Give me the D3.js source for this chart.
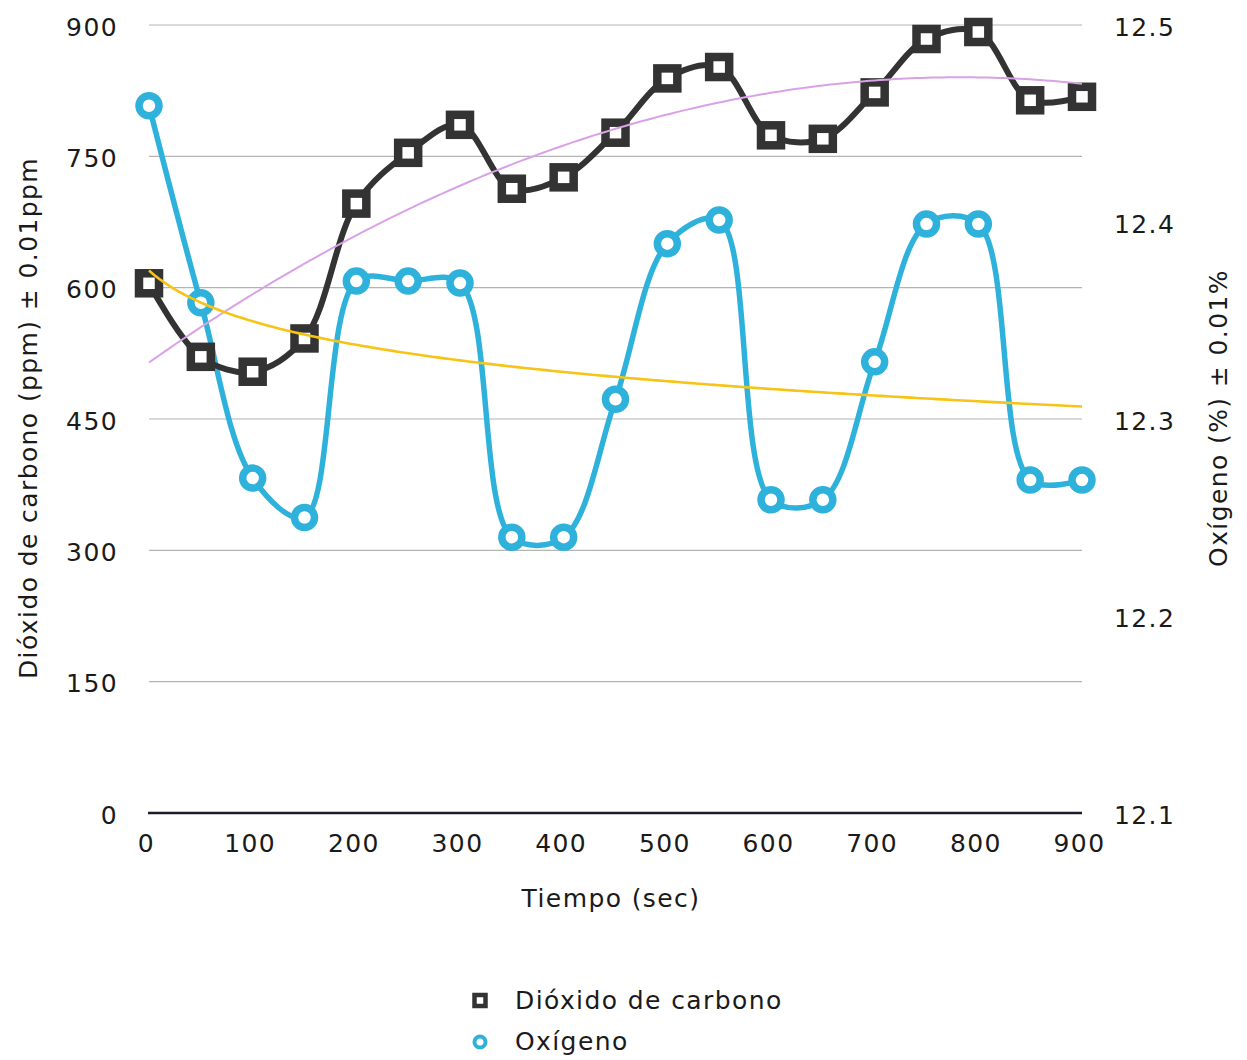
<!DOCTYPE html>
<html>
<head>
<meta charset="utf-8">
<script src="https://cdn.jsdelivr.net/npm/d3@7"></script>
<style>
  html, body { margin: 0; padding: 0; background: #fff; }
  svg text { font-family: "DejaVu Sans", "Liberation Sans", Arial, sans-serif; fill: #1a1a1a; letter-spacing: 1.4px; }
</style>
</head>
<body>
<svg id="chart" width="1247" height="1060"></svg>
<script>
// Time samples (seconds)
const tiempo = [0, 50, 100, 150, 200, 250, 300, 350, 400, 450, 500, 550, 600, 650, 700, 750, 800, 850, 900];
// Carbon dioxide (ppm), left axis
const co2 = [605, 521, 504, 542, 696, 754, 786, 713, 726, 777, 839, 852, 774, 770, 823, 884, 892, 814, 818];
// Oxygen (%), right axis
const o2 = [12.459, 12.359, 12.270, 12.250, 12.370, 12.370, 12.369, 12.240, 12.240, 12.310,
            12.389, 12.401, 12.259, 12.259, 12.329, 12.399, 12.399, 12.269, 12.269];

const xTicks = [0, 100, 200, 300, 400, 500, 600, 700, 800, 900];
const leftTicks = [0, 150, 300, 450, 600, 750, 900];
const rightTicks = [12.1, 12.2, 12.3, 12.4, 12.5];

const colCO2 = "#333333";
const colO2 = "#2eb2dc";
const colTrendCO2 = "#d9a2e6";
const colTrendO2 = "#f7c316";
const fontFamily = '"DejaVu Sans", "Liberation Sans", Arial, sans-serif';
const fontSize = 25;

const svg = d3.select("#chart");

const x = d3.scaleLinear().domain([0, 900]).range([149, 1082]);
const yL = d3.scaleLinear().domain([0, 900]).range([813, 25]);
const yR = d3.scaleLinear().domain([12.1, 12.5]).range([813, 25]);

// Horizontal gridlines
svg.append("g")
  .selectAll("line")
  .data(leftTicks.filter(d => d > 0))
  .join("line")
  .attr("x1", x(0)).attr("x2", x(900))
  .attr("y1", d => yL(d)).attr("y2", d => yL(d))
  .attr("stroke", "#b4b4b4").attr("stroke-width", 1.2);

// Baseline
svg.append("line")
  .attr("x1", x(0) - 1).attr("x2", x(900))
  .attr("y1", yL(0)).attr("y2", yL(0))
  .attr("stroke", "#1c1c2c").attr("stroke-width", 2.5);

// Axes (labels only)
function styleAxis(g) {
  g.select(".domain").remove();
  g.selectAll(".tick line").remove();
  g.selectAll("text").attr("font-size", fontSize).attr("fill", "#1a1a1a")
    .style("font-family", fontFamily);
}

svg.append("g")
  .attr("transform", `translate(-3, ${yL(0) + 21})`)
  .call(d3.axisBottom(x).tickValues(xTicks).tickSize(0).tickPadding(0).tickFormat(d3.format("d")))
  .call(styleAxis);

svg.append("g")
  .attr("transform", "translate(118, 2)")
  .call(d3.axisLeft(yL).tickValues(leftTicks).tickSize(0).tickPadding(0).tickFormat(d3.format("d")))
  .call(styleAxis);

svg.append("g")
  .attr("transform", "translate(1114, 2)")
  .call(d3.axisRight(yR).tickValues(rightTicks).tickSize(0).tickPadding(0).tickFormat(d3.format(".1f")))
  .call(styleAxis);

// Axis titles
svg.append("text")
  .attr("x", 611).attr("y", 907)
  .attr("text-anchor", "middle").attr("font-size", fontSize)
  .text("Tiempo (sec)");

svg.append("text")
  .attr("transform", "translate(37, 418) rotate(-90)")
  .attr("text-anchor", "middle").attr("font-size", fontSize)
  .text("Dióxido de carbono (ppm) ± 0.01ppm");

svg.append("text")
  .attr("transform", "translate(1227, 418) rotate(-90)")
  .attr("text-anchor", "middle").attr("font-size", fontSize)
  .text("Oxígeno (%) ± 0.01%");

// Data lines
const co2Pts = tiempo.map((t, i) => [t, co2[i]]);
const o2Pts = tiempo.map((t, i) => [t, o2[i]]);

const lineL = d3.line().x(d => x(d[0])).y(d => yL(d[1])).curve(d3.curveCatmullRom.alpha(0.5));
const lineR = d3.line().x(d => x(d[0])).y(d => yR(d[1])).curve(d3.curveCatmullRom.alpha(0.5));

svg.append("path").datum(o2Pts)
  .attr("d", lineR).attr("fill", "none")
  .attr("stroke", colO2).attr("stroke-width", 5.5).attr("stroke-linejoin", "round");

svg.append("path").datum(co2Pts)
  .attr("d", lineL).attr("fill", "none")
  .attr("stroke", colCO2).attr("stroke-width", 6).attr("stroke-linejoin", "round");

// Markers
svg.append("g").selectAll("rect")
  .data(co2Pts)
  .join("rect")
  .attr("x", d => x(d[0]) - 10).attr("y", d => yL(d[1]) - 10)
  .attr("width", 20).attr("height", 20)
  .attr("fill", "#fff").attr("stroke", colCO2).attr("stroke-width", 8.5);

svg.append("g").selectAll("circle")
  .data(o2Pts)
  .join("circle")
  .attr("cx", d => x(d[0])).attr("cy", d => yR(d[1]))
  .attr("r", 10)
  .attr("fill", "#fff").attr("stroke", colO2).attr("stroke-width", 7.5);

// Trend lines computed from the series
// CO2: second-order polynomial least squares
function polyFit2(xs, ys) {
  const n = xs.length;
  let s = [0, 0, 0, 0, 0], t = [0, 0, 0];
  for (let i = 0; i < n; i++) {
    const xi = xs[i] / 100;
    for (let k = 0; k < 5; k++) s[k] += Math.pow(xi, k);
    for (let k = 0; k < 3; k++) t[k] += ys[i] * Math.pow(xi, k);
  }
  const A = [[s[0], s[1], s[2], t[0]], [s[1], s[2], s[3], t[1]], [s[2], s[3], s[4], t[2]]];
  for (let c = 0; c < 3; c++) {
    for (let r = c + 1; r < 3; r++) {
      const f = A[r][c] / A[c][c];
      for (let k = c; k < 4; k++) A[r][k] -= f * A[c][k];
    }
  }
  const b = [0, 0, 0];
  for (let r = 2; r >= 0; r--) {
    let v = A[r][3];
    for (let k = r + 1; k < 3; k++) v -= A[r][k] * b[k];
    b[r] = v / A[r][r];
  }
  return xv => b[0] + b[1] * (xv / 100) + b[2] * (xv / 100) * (xv / 100);
}

// O2: logarithmic least squares against the sample index (1-based)
function logFit(ys) {
  const ls = ys.map((_, i) => Math.log(i + 1));
  const ml = d3.mean(ls), my = d3.mean(ys);
  let num = 0, den = 0;
  ls.forEach((l, i) => { num += (l - ml) * (ys[i] - my); den += (l - ml) * (l - ml); });
  const slope = num / den, icpt = my - slope * ml;
  return idx => icpt + slope * Math.log(idx);
}

const fCO2 = polyFit2(tiempo, co2);
const fO2 = logFit(o2);
const step = tiempo[1] - tiempo[0];
const sampleX = d3.range(0, 900.1, 5);

svg.append("path")
  .datum(sampleX.map(t => [t, fCO2(t)]))
  .attr("d", d3.line().x(d => x(d[0])).y(d => yL(d[1])))
  .attr("fill", "none").attr("stroke", colTrendCO2).attr("stroke-width", 2);

svg.append("path")
  .datum(sampleX.map(t => [t, fO2(t / step + 1)]))
  .attr("d", d3.line().x(d => x(d[0])).y(d => yR(d[1])))
  .attr("fill", "none").attr("stroke", colTrendO2).attr("stroke-width", 2.6);

// Legend
const legend = svg.append("g").attr("transform", "translate(480, 0)");
legend.append("rect")
  .attr("x", -5.5).attr("y", 995).attr("width", 11).attr("height", 11)
  .attr("fill", "#fff").attr("stroke", colCO2).attr("stroke-width", 4.5);
legend.append("text")
  .attr("x", 35).attr("y", 1009).attr("font-size", fontSize)
  .text("Dióxido de carbono");
legend.append("circle")
  .attr("cx", 0).attr("cy", 1042).attr("r", 5.5)
  .attr("fill", "#fff").attr("stroke", colO2).attr("stroke-width", 4);
legend.append("text")
  .attr("x", 35).attr("y", 1050).attr("font-size", fontSize)
  .text("Oxígeno");
</script>
</body>
</html>
